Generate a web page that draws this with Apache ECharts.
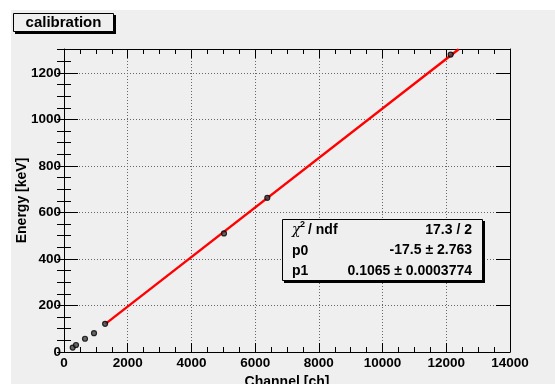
<!DOCTYPE html>
<html>
<head>
<meta charset="utf-8">
<script src="https://cdn.jsdelivr.net/npm/echarts@6/dist/echarts.min.js"></script>
<style>
  html, body { margin: 0; padding: 0; background: #ffffff; }
  #chart { width: 555px; height: 384px; }
</style>
</head>
<body>
<div id="chart"></div>
<script>
// calibration points: channel vs energy
const channels = [273, 377, 659, 942, 1290, 5022, 6382, 12138];
const energies = [19, 30, 57, 81, 121, 510, 663, 1279];

// fitted line, end points as drawn (clipped at frame top)
const fitX = [1300, 12390];
const fitY = [121, 1302];

const xTicks = [0, 2000, 4000, 6000, 8000, 10000, 12000, 14000];
const yTicks = [0, 200, 400, 600, 800, 1000, 1200];

const statNames = ["p0", "p1"];
const statValues = ["17.3 / 2", "-17.5 \u00b1 2.763", "0.1065 \u00b1 0.0003774"];

const FONT = "Liberation Sans";
const BG = "#efefef";

const chart = echarts.init(document.getElementById("chart"), null, { renderer: "canvas" });

const baseX = {
    type: "value",
    min: 0,
    max: 14000,
    interval: 2000,
    axisLabel: { show: false },
    axisLine: { show: false },
    axisTick: { show: false },
    splitLine: { show: false },
};
const baseY = {
    type: "value",
    min: 0,
    max: 1303,
    interval: 200,
    axisLabel: { show: false },
    axisLine: { show: false },
    axisTick: { show: false },
    splitLine: { show: false },
};
const frameLine = { show: true, onZero: false, lineStyle: { color: "#000", width: 1 } };
const plain = (v) => String(v);

const option = {
    backgroundColor: "transparent",
    animation: false,
    grid: { left: 64, right: 45, top: 49, bottom: 32, outerBoundsMode: "none", containLabel: false },
    xAxis: [
        {
            ...baseX,
            position: "bottom",
            name: "Channel [ch]",
            nameLocation: "middle",
            nameGap: 23,
            nameMoveOverlap: false,
            nameTextStyle: { fontFamily: FONT, fontWeight: "bold", fontSize: 14, color: "#000" },
            axisLine: frameLine,
            axisTick: { show: true, inside: true, length: 9, lineStyle: { color: "#000" } },
            minorTick: { show: true, splitNumber: 4, length: 5, lineStyle: { color: "#000" } },
            axisLabel: {
                show: true, margin: 4, fontFamily: FONT, fontWeight: "bold", fontSize: 13.5, color: "#000",
                customValues: xTicks, formatter: plain,
            },
            splitLine: { show: true, lineStyle: { color: "#666", width: 1, type: [1, 2] } },
        },
        {
            ...baseX,
            position: "top",
            axisLine: frameLine,
            axisTick: { show: true, inside: true, length: 9, lineStyle: { color: "#000" } },
            minorTick: { show: true, splitNumber: 4, length: 5, lineStyle: { color: "#000" } },
        },
    ],
    yAxis: [
        {
            ...baseY,
            position: "left",
            name: "Energy [keV]",
            nameLocation: "middle",
            nameGap: 35,
            nameMoveOverlap: false,
            nameTextStyle: { fontFamily: FONT, fontWeight: "bold", fontSize: 14, color: "#000" },
            axisLine: frameLine,
            axisTick: { show: true, inside: true, length: 14, lineStyle: { color: "#000" } },
            axisLabel: {
                show: true, margin: 3, fontFamily: FONT, fontWeight: "bold", fontSize: 13.5, color: "#000",
                customValues: yTicks, formatter: plain,
            },
            splitLine: { show: true, lineStyle: { color: "#666", width: 1, type: [1, 2] } },
        },
        {
            ...baseY,
            position: "left",
            interval: 50,
            axisTick: { show: true, inside: true, length: 7, lineStyle: { color: "#000" } },
        },
        {
            ...baseY,
            position: "right",
            axisLine: frameLine,
            axisTick: { show: true, inside: true, length: 14, lineStyle: { color: "#000" } },
        },
        {
            ...baseY,
            position: "right",
            interval: 50,
            axisTick: { show: true, inside: true, length: 7, lineStyle: { color: "#000" } },
        },
    ],
    series: [
        {
            name: "fit",
            type: "line",
            xAxisIndex: 0,
            yAxisIndex: 0,
            data: fitX.map((x, i) => [x, fitY[i]]),
            symbol: "none",
            lineStyle: { color: "#ff0000", width: 2.4 },
            z: 2,
        },
        {
            name: "points",
            type: "scatter",
            xAxisIndex: 0,
            yAxisIndex: 0,
            data: channels.map((c, i) => [c, energies[i]]),
            symbol: "circle",
            symbolSize: 5,
            itemStyle: { color: "#444", borderColor: "#000", borderWidth: 1.2 },
            z: 3,
        },
    ],
    graphic: [
        // canvas fill (screenshot has a white margin on the top and left)
        { type: "rect", z: -10, silent: true, shape: { x: 11, y: 10, width: 544, height: 374 }, style: { fill: BG } },
        // title box
        { type: "rect", z: 10, shape: { x: 15, y: 15, width: 101, height: 19 }, style: { fill: "#000" } },
        { type: "rect", z: 11, shape: { x: 13.5, y: 13.5, width: 100, height: 18 }, style: { fill: BG, stroke: "#000", lineWidth: 1 } },
        {
            type: "text", z: 12, x: 63.5, y: 23,
            style: { text: "calibration", fontFamily: FONT, fontWeight: "bold", fontSize: 15, fill: "#000", align: "center", verticalAlign: "middle" },
        },
        // stat box
        { type: "rect", z: 10, shape: { x: 284, y: 221, width: 201, height: 62 }, style: { fill: "#000" } },
        { type: "rect", z: 11, shape: { x: 282.5, y: 219.5, width: 200, height: 61 }, style: { fill: BG, stroke: "#000", lineWidth: 1 } },
        {
            type: "text", z: 12, x: 292, y: 230,
            style: { text: "\u03c7", fontFamily: "DejaVu Serif", fontStyle: "italic", fontSize: 14, fill: "#000", verticalAlign: "middle" },
        },
        {
            type: "text", z: 12, x: 300, y: 225,
            style: { text: "2", fontFamily: FONT, fontWeight: "bold", fontSize: 9, fill: "#000", verticalAlign: "middle" },
        },
        {
            type: "text", z: 12, x: 308, y: 230,
            style: { text: "/ ndf", fontFamily: FONT, fontWeight: "bold", fontSize: 14, fill: "#000", verticalAlign: "middle" },
        },
        ...statNames.map((n, i) => ({
            type: "text", z: 12, x: 292, y: 251 + i * 20.5,
            style: { text: n, fontFamily: FONT, fontWeight: "bold", fontSize: 14, fill: "#000", verticalAlign: "middle" },
        })),
        ...statValues.map((v, i) => ({
            type: "text", z: 12, x: 472, y: 230 + i * 20.5,
            style: { text: v, fontFamily: FONT, fontWeight: "bold", fontSize: 14, fill: "#000", align: "right", verticalAlign: "middle" },
        })),
    ],
};

chart.setOption(option);
</script>
</body>
</html>
